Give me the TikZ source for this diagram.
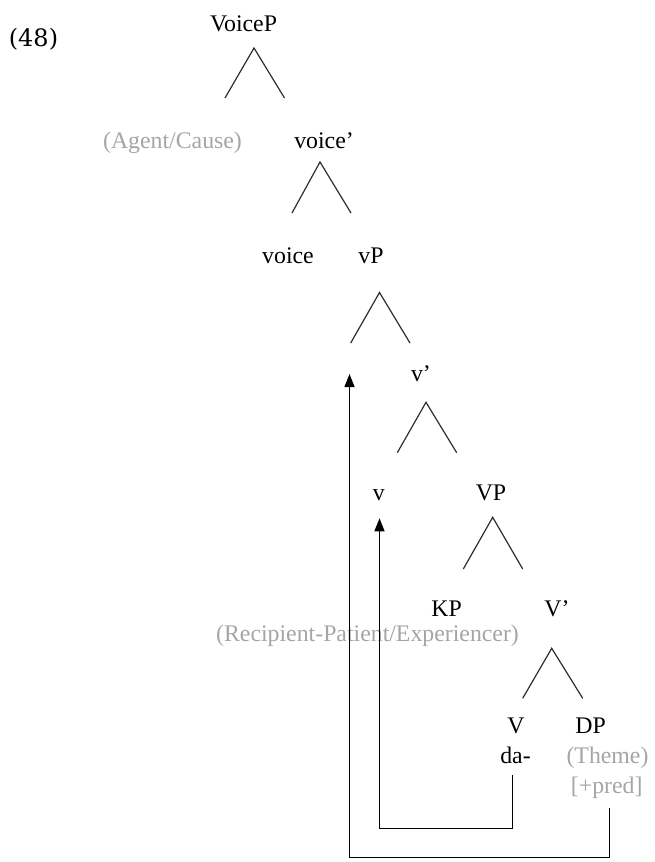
\documentclass[tikz,border=0pt]{standalone}
\usepackage{fontspec}
\setmainfont{Liberation Serif}
\newfontfamily\exfont{DejaVu Serif}
\usetikzlibrary{arrows.meta}
\definecolor{lite}{RGB}{165,165,165}
\definecolor{branch}{RGB}{45,45,45}
\begin{document}
\begin{tikzpicture}[x=1pt,y=-1pt,
  lab/.style={anchor=base,inner sep=0pt,font=\fontsize{23.8}{26}\selectfont},
  role/.style={lab,text=lite},
  branchline/.style={draw=branch,line width=1.2pt},
  moveline/.style={draw=black,line width=1.4pt,-{Triangle[length=13pt,width=10pt]}}]
\useasboundingbox (0,0) rectangle (654,862);
% labels
\node[anchor=base,inner sep=0pt,font=\exfont\fontsize{24}{26}\selectfont] (ex) at (33.5,46) {(48)};
\node[lab] (VoiceP) at (243.5,31.5) {VoiceP};
\node[role] (agent) at (172.5,148) {(Agent/Cause)};
\node[lab] (voicebar) at (324,148) {voice’};
\node[lab] (voice) at (288,263) {voice};
\node[lab] (vP) at (371,263) {vP};
\node[lab] (vbar) at (421,381.5) {v’};
\node[lab] (v) at (378.7,500) {v};
\node[lab] (VP) at (491,500) {VP};
\node[lab] (KP) at (446.7,616.7) {KP};
\node[lab] (Vbar) at (557,616.7) {V’};
\node[role] (recip) at (367.5,641.5) {(Recipient-Patient/Experiencer)};
\node[lab] (V) at (516,733.3) {V};
\node[lab] (DP) at (590.7,733.3) {DP};
\node[lab] (da) at (515.5,763.3) {da-};
\node[role] (theme) at (607.5,763.3) {(Theme)};
\node[role] (pred) at (606.7,793.3) {[+pred]};
% branch coordinates
\coordinate (t1a) at (254,48);   \coordinate (t1l) at (225,98);   \coordinate (t1r) at (284.5,98);
\coordinate (t2a) at (320,162);  \coordinate (t2l) at (292,213);  \coordinate (t2r) at (351,213);
\coordinate (t3a) at (379.5,292.5); \coordinate (t3l) at (350.7,343); \coordinate (t3r) at (410,343);
\coordinate (t4a) at (426,402.3); \coordinate (t4l) at (397.3,452.7); \coordinate (t4r) at (456.7,452.7);
\coordinate (t5a) at (492.7,517.3); \coordinate (t5l) at (463.3,569); \coordinate (t5r) at (522.7,569);
\coordinate (t6a) at (551.7,648.3); \coordinate (t6l) at (522.7,698.3); \coordinate (t6r) at (582.7,698.3);
\foreach \t in {t1,t2,t3,t4,t5,t6}
  \draw[branchline] (\t l) -- (\t a) -- (\t r);
% movement paths
\coordinate (m2s) at (512.3,775);
\coordinate (m2c) at (512.3,828.3);
\coordinate (m2d) at (379.5,828.3);
\coordinate (m2e) at (379.5,518.3);
\draw[moveline] (m2s) -- (m2c) -- (m2d) -- (m2e);
\coordinate (m1s) at (609.3,808.3);
\coordinate (m1c) at (609.3,857.5);
\coordinate (m1d) at (349.5,857.5);
\coordinate (m1e) at (349.5,374);
\draw[moveline] (m1s) -- (m1c) -- (m1d) -- (m1e);
\end{tikzpicture}
\end{document}
